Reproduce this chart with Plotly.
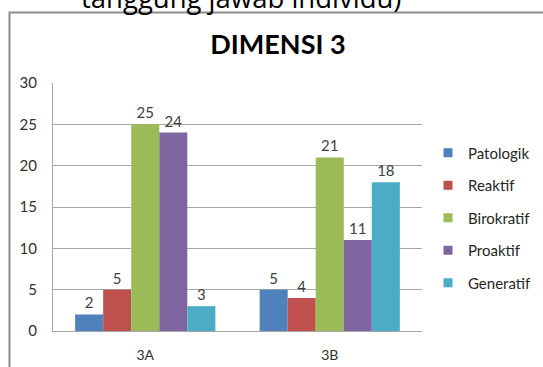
import plotly.graph_objects as go

categories = ["3A", "3B"]
series_names = ["Patologik", "Reaktif", "Birokratif", "Proaktif", "Generatif"]
patologik = [2, 5]
reaktif = [5, 4]
birokratif = [25, 21]
proaktif = [24, 11]
generatif = [3, 18]
values = [patologik, reaktif, birokratif, proaktif, generatif]
colors = ["#4F81BD", "#C0504D", "#9BBB59", "#8064A2", "#4BACC6"]
y_ticks = [0, 5, 10, 15, 20, 25, 30]

FONT = "Lato, Liberation Sans, sans-serif"
L, R, T, B = 53, 121, 83, 36
W, H = 543, 367
PW, PH = W - L - R, H - T - B


def px_x(x):
    return (x - L) / PW


def px_y(y):
    return (H - B - y) / PH


fig = go.Figure()
for name, vals, col in zip(series_names, values, colors):
    fig.add_trace(go.Bar(
        x=categories, y=vals, name=name, marker_color=col,
        marker_line_width=0, showlegend=False,
        text=[str(v) for v in vals], textposition="outside",
        textfont=dict(family=FONT, size=15, color="#404040"),
        cliponaxis=False,
    ))
# legend entries with small square swatches
for name, col in zip(series_names, colors):
    fig.add_trace(go.Scatter(
        x=[None], y=[None], mode="markers", name=name,
        marker=dict(symbol="square", size=9, color=col),
        legendgroup=name, showlegend=True,
    ))

fig.update_layout(
    width=W, height=H,
    margin=dict(l=L, r=R, t=T, b=B, autoexpand=False),
    paper_bgcolor="white", plot_bgcolor="white",
    barmode="group", bargap=0.24, bargroupgap=0,
    title=dict(text="<b>DIMENSI 3</b>", x=278/W, xanchor="center",
               y=1 - 45/H, yanchor="middle",
               font=dict(family=FONT, size=27, color="#000000")),
    legend=dict(x=px_x(428), xanchor="left", y=px_y(218), yanchor="middle",
                font=dict(family=FONT, size=15, color="#262626"),
                tracegroupgap=10, itemwidth=30, bgcolor="rgba(0,0,0,0)"),
    yaxis=dict(range=[0, 30], tickvals=y_ticks, showgrid=True,
               gridcolor="#A6A6A6", gridwidth=1, showline=True,
               linecolor="#A6A6A6", zeroline=False, automargin=False,
               ticks="", ticklabelstandoff=12,
               tickfont=dict(family=FONT, size=15, color="#303030")),
    xaxis=dict(showline=True, linecolor="#A6A6A6", ticks="", automargin=False,
               ticklabelstandoff=11,
               tickfont=dict(family=FONT, size=14, color="#303030")),
    font=dict(family=FONT),
)

# chart frame (top and left edges visible)
fig.add_shape(type="rect", xref="paper", yref="paper",
              x0=px_x(9.5), x1=px_x(W + 20), y0=px_y(12.5), y1=px_y(H + 20),
              line=dict(color="#8C8C8C", width=2), fillcolor="rgba(0,0,0,0)")

# partially visible document text above the chart
fig.add_annotation(text="tanggung jawab individu)", xref="paper", yref="paper",
                   x=px_x(241), xanchor="center", y=px_y(18), yanchor="bottom",
                   showarrow=False,
                   font=dict(family="Open Sans, sans-serif", size=27.5, color="#000000"))

fig.write_html("out.html")
